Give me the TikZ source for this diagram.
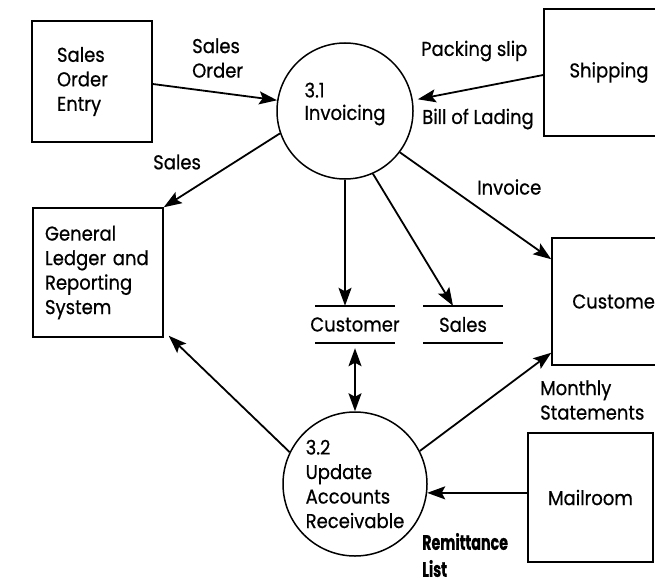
\documentclass[tikz,border=0pt]{standalone}
\usepackage{fontspec}
\setmainfont[FakeStretch=0.9, FakeBold=0.6]{Poppins}
\usetikzlibrary{arrows.meta,calc}

\begin{document}
\begin{tikzpicture}[x=1pt,y=-1pt,
  >={Stealth[length=18pt,width=13pt,inset=3.5pt]},
  every node/.style={font=\fontsize{20}{24.5}\selectfont, inner sep=0pt},
  box/.style={draw, rectangle, line width=1.5pt},
  proc/.style={draw, circle, line width=1.5pt, align=left},
  txt/.style={align=left, anchor=west},
  boldtxt/.style={txt, font=\fontsize{21}{27}\selectfont\bfseries\addfontfeature{FakeStretch=0.68}},
  store/.style={minimum width=80pt, minimum height=37pt},
  storeline/.style={line width=1.5pt},
  flow/.style={->, line width=1.8pt},
  flow2/.style={<->, line width=1.8pt}
]
\useasboundingbox (0,0) rectangle (655,578);
\clip (0,0) rectangle (655,578);

% external entities
\node[box, minimum height=121pt, text width=70pt, inner xsep=25pt, align=left] (soe) at (92,81.5) {Sales\\Order\\Entry};
\node[box, minimum height=129pt, text width=106pt, inner xsep=12pt, align=left] (gl) at (98,272.5) {General\\Ledger~and\\Reporting\\System};
\node[box, minimum width=130pt, minimum height=127pt] (ship) at (609,72.5) {Shipping};
\node[box, minimum width=130pt, minimum height=127pt] (cust) at (617,301.5) {Customer};
\node[box, minimum width=125pt, minimum height=129pt] (mail) at (590.5,497.5) {Mailroom};

% processes
\node[proc, minimum size=136pt] (p31) at (345,111) {};
\node[align=left, font=\fontsize{20}{22.5}\selectfont] (p31t) at (345,104) {3.1\\Invoicing};
\node[proc, minimum size=144pt] (p32) at (355,484) {3.2\\Update\\Accounts\\Receivable};

% data stores
\node[store] (dsc) at (355,324.5) {Customer};
\node[store] (dss) at (463,324.5) {Sales};
\foreach \s in {dsc,dss} {
  \draw[storeline] ([xshift=-40pt]\s.north) -- ([xshift=40pt]\s.north)
                   ([xshift=-40pt]\s.south) -- ([xshift=40pt]\s.south);
}

% data flows
\draw[flow] ([yshift=-2.5pt]soe.east) -- (p31.171);
\draw[flow, shorten >=5pt] ([yshift=-2.5pt]ship.west) -- (p31.9);
\draw[flow] (p31.199) -- (gl.north east);
\draw[flow] (p31.south) -- (p31.south |- dsc.north);
\draw[flow] (p31.-66) -- ([xshift=-10pt]dss.north);
\draw[flow] (p31.-37) -- ([yshift=-22pt]cust.north west);
\draw[flow2, shorten <=5pt] (p32.north |- dsc.south) -- (p32.north);
\draw[flow] (p32.154.5) -- ([xshift=5pt,yshift=2pt]gl.south east);
\draw[flow] (p32.27.6) -- ([yshift=13pt]cust.south west);
\draw[flow] (p32.-7.2 -| mail.west) -- (p32.-7.2);

% flow labels
\node[txt] (lso) at (192,58) {Sales\\Order};
\node[txt] (lsales) at (153,162) {Sales};
\node[txt] (lpack) at (421,51) {Packing slip};
\node[txt] (lbill) at (422,119) {Bill of Lading};
\node[txt] (linv) at (477,187) {Invoice};
\node[txt] (lmon) at (540,400) {Monthly\\Statements};
\node[boldtxt] (lrem) at (422,555) {Remittance\\List};
\end{tikzpicture}
\end{document}
